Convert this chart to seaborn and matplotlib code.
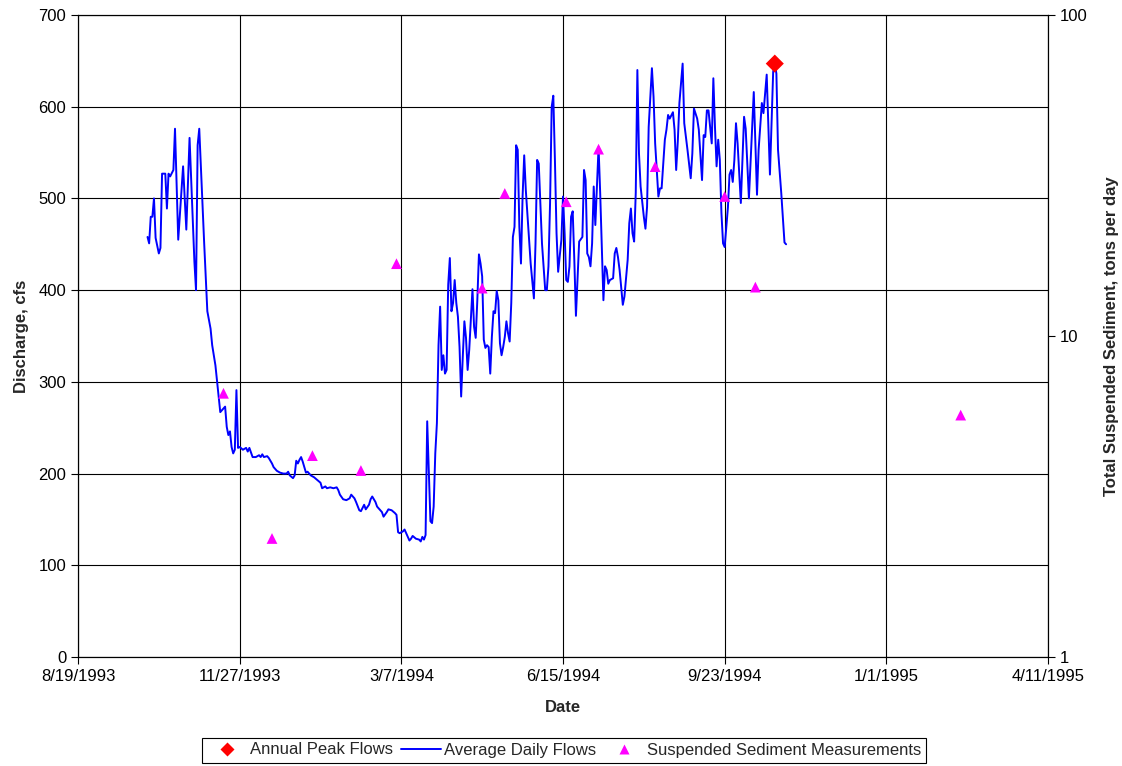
import datetime as dt

import matplotlib
matplotlib.use("Agg")
import matplotlib.pyplot as plt
import matplotlib.dates as mdates
import matplotlib.ticker as mticker
from matplotlib.lines import Line2D
import numpy as np
import pandas as pd
import seaborn as sns

# Average daily discharge, day number counted from the start of the record
record_start = "1993-10-01"
flow_day = [
    0, 1, 2, 3, 4, 5, 7, 8, 9, 11, 12, 13, 14, 16, 17, 19, 22, 24, 26, 28,
    29, 30, 31, 32, 35, 37, 39, 40, 42, 44, 45, 47, 48, 49, 50, 51, 52, 53, 54, 55,
    56, 57, 59, 61, 62, 63, 65, 67, 69, 70, 71, 72, 74, 75, 77, 78, 80, 82, 84, 86,
    87, 88, 90, 91, 92, 93, 94, 95, 96, 98, 99, 101, 103, 105, 107, 108, 110, 111, 113, 115,
    117, 118, 119, 121, 123, 125, 126, 128, 129, 131, 132, 134, 135, 137, 138, 139, 141, 142, 144, 145,
    146, 148, 149, 151, 153, 154, 155, 156, 158, 159, 160, 162, 163, 164, 166, 168, 169, 170, 171, 172,
    173, 175, 176, 177, 178, 179, 180, 181, 182, 183, 184, 185, 186, 187, 188, 189, 190, 191, 192, 193,
    194, 195, 196, 197, 198, 199, 201, 202, 203, 204, 205, 206, 207, 208, 209, 210, 211, 212, 213, 214,
    215, 216, 217, 218, 219, 220, 221, 222, 223, 224, 225, 226, 227, 228, 229, 230, 231, 232, 233, 234,
    236, 237, 239, 240, 241, 242, 244, 246, 247, 248, 249, 250, 251, 252, 253, 254, 256, 257, 258, 259,
    260, 261, 262, 263, 264, 265, 267, 269, 270, 271, 272, 273, 274, 275, 276, 277, 278, 279, 280, 282,
    283, 284, 285, 286, 288, 289, 290, 291, 292, 294, 295, 297, 298, 299, 300, 301, 302, 303, 304, 305,
    307, 308, 309, 310, 312, 313, 314, 316, 317, 318, 320, 321, 322, 323, 325, 326, 327, 328, 329, 331,
    332, 334, 336, 337, 338, 340, 341, 343, 344, 345, 346, 347, 348, 349, 350, 351, 352, 353, 354, 355,
    356, 357, 358, 359, 360, 361, 362, 363, 364, 365, 367, 369, 370, 372, 375, 377, 378, 380, 381, 383,
    385, 387, 388, 389, 390, 392, 394, 395,
]
flow_cfs = [
    458, 451, 480, 480, 500, 457, 440, 446, 527, 527, 489, 527, 524, 531, 576, 455, 535, 466, 566, 478,
    431, 400, 558, 576, 453, 377, 358, 340, 318, 284, 267, 271, 273, 251, 242, 246, 229, 222, 226, 291,
    228, 229, 226, 228, 224, 228, 218, 218, 220, 218, 221, 218, 219, 217, 211, 207, 203, 201, 200, 200,
    202, 198, 195, 198, 214, 211, 215, 218, 213, 201, 202, 198, 196, 193, 190, 184, 186, 184, 185, 184,
    185, 182, 177, 172, 171, 173, 177, 173, 169, 160, 159, 166, 161, 166, 172, 175, 169, 164, 160, 158,
    153, 158, 161, 160, 157, 155, 136, 135, 137, 139, 135, 127, 129, 132, 129, 128, 126, 131, 128, 133,
    257, 148, 146, 164, 222, 255, 340, 382, 313, 329, 309, 313, 406, 435, 377, 386, 411, 386, 371, 338,
    284, 327, 366, 348, 313, 335, 401, 360, 348, 389, 439, 429, 415, 346, 337, 340, 338, 309, 349, 377,
    375, 399, 389, 342, 329, 338, 349, 366, 353, 344, 386, 458, 469, 558, 553, 469, 429, 502, 547, 509,
    455, 429, 391, 451, 542, 538, 451, 400, 400, 426, 495, 600, 612, 542, 462, 420, 455, 502, 462, 411,
    409, 426, 480, 486, 433, 372, 453, 458, 531, 520, 440, 436, 426, 451, 513, 471, 513, 556, 506, 389,
    426, 422, 407, 411, 413, 440, 446, 436, 422, 384, 393, 433, 473, 489, 462, 453, 506, 640, 549, 513,
    480, 467, 491, 578, 642, 611, 560, 502, 511, 511, 564, 575, 591, 587, 594, 575, 531, 562, 604, 647,
    582, 553, 522, 549, 598, 587, 575, 520, 569, 567, 596, 596, 578, 560, 631, 578, 535, 564, 542, 484,
    451, 447, 469, 490, 526, 531, 518, 542, 582, 560, 495, 589, 576, 500, 616, 504, 553, 604, 593, 635,
    526, 638, 647, 636, 553, 506, 452, 450,
]

# Annual peak discharge
peak_dates = ["1994-10-24"]
peak_cfs = [647]

# Suspended sediment samples, tons per day
sediment_dates = [
    "1993-11-17", "1993-12-17", "1994-01-11", "1994-02-10", "1994-03-04",
    "1994-04-26", "1994-05-10", "1994-06-17", "1994-07-07", "1994-08-11",
    "1994-09-23", "1994-10-12", "1995-02-16",
]
sediment_tons = [6.63, 2.34, 4.24, 3.81, 16.8, 14.1, 27.8, 26.2, 38.2, 33.7, 27.2, 14.2, 5.67]

x_tick_dates = ["1993-08-19", "1993-11-27", "1994-03-07", "1994-06-15",
                "1994-09-23", "1995-01-01", "1995-04-11"]
discharge_ticks = [0, 100, 200, 300, 400, 500, 600, 700]
sediment_ticks = [1, 10, 100]

sns.set_theme(style="ticks")
plt.rcParams["font.family"] = ["Liberation Sans", "DejaVu Sans"]
plt.rcParams["font.size"] = 12

flows = pd.DataFrame({
    "date": pd.Timestamp(record_start) + pd.to_timedelta(flow_day, unit="D"),
    "cfs": flow_cfs,
})
peaks = pd.DataFrame({"date": pd.to_datetime(peak_dates), "cfs": peak_cfs})
sediment = pd.DataFrame({"date": pd.to_datetime(sediment_dates), "tons": sediment_tons})

fig = plt.figure(figsize=(11.22, 7.66), dpi=100)
ax = fig.add_axes([78 / 1122, 1 - 657 / 766, (1048 - 78) / 1122, (657 - 15) / 766])
ax2 = ax.twinx()

sns.lineplot(data=flows, x="date", y="cfs", ax=ax, color="#0000FF", linewidth=1.4,
             legend=False, zorder=3)
sns.scatterplot(data=peaks, x="date", y="cfs", ax=ax, marker="D", s=85,
                color="#FF0000", edgecolor="none", legend=False, zorder=4)
sns.scatterplot(data=sediment, x="date", y="tons", ax=ax2, marker="^", s=60,
                color="#FF00FF", edgecolor="none", legend=False, zorder=4)

# x axis: dates, 100-day spacing
xt = [pd.Timestamp(d) for d in x_tick_dates]
ax.set_xlim(xt[0], xt[-1])
ax.set_xticks(xt)
ax.xaxis.set_major_formatter(
    mticker.FuncFormatter(lambda v, pos: (lambda d: f"{d.month}/{d.day}/{d.year}")(mdates.num2date(v)))
)
ax.set_xlabel("Date", fontweight="bold", fontsize=12, labelpad=12)

# left axis: discharge
ax.set_ylim(0, 700)
ax.set_yticks(discharge_ticks)
ax.set_ylabel("Discharge, cfs", fontweight="bold", fontsize=12, labelpad=7)

# right axis: log sediment load
ax2.set_yscale("log")
ax2.set_ylim(1, 100)
ax2.set_yticks(sediment_ticks)
ax2.yaxis.set_major_formatter(mticker.FuncFormatter(lambda v, pos: f"{v:g}"))
ax2.yaxis.set_minor_locator(mticker.NullLocator())
ax2.set_ylabel("Total Suspended Sediment, tons per day", fontweight="bold", fontsize=12,
               labelpad=12)

ax.grid(True, color="black", linewidth=0.8)
ax.set_axisbelow(True)
for a in (ax, ax2):
    for s in a.spines.values():
        s.set_color("black")
        s.set_linewidth(0.8)
    a.tick_params(axis="both", which="major", direction="out", length=5, width=0.8,
                  color="black", labelsize=12, labelcolor="black")
ax.set_facecolor("white")

handles = [
    Line2D([], [], linestyle="none", marker="D", markersize=7, color="#FF0000",
           markeredgecolor="none"),
    Line2D([], [], color="#0000FF", linewidth=1.4),
    Line2D([], [], linestyle="none", marker="^", markersize=7, color="#FF00FF",
           markeredgecolor="none"),
]
labels = ["Annual Peak Flows", "Average Daily Flows", "Suspended Sediment Measurements"]
leg = fig.legend(handles, labels, loc="center", bbox_to_anchor=(564 / 1122, 1 - 750 / 766),
                 ncol=3, frameon=True, fancybox=False, framealpha=1, edgecolor="black",
                 fontsize=12, handlelength=2.4, handletextpad=0.2, columnspacing=0.45,
                 borderpad=0.3)
leg.get_frame().set_linewidth(0.8)

fig.savefig("out.png", dpi=100, facecolor="white")
